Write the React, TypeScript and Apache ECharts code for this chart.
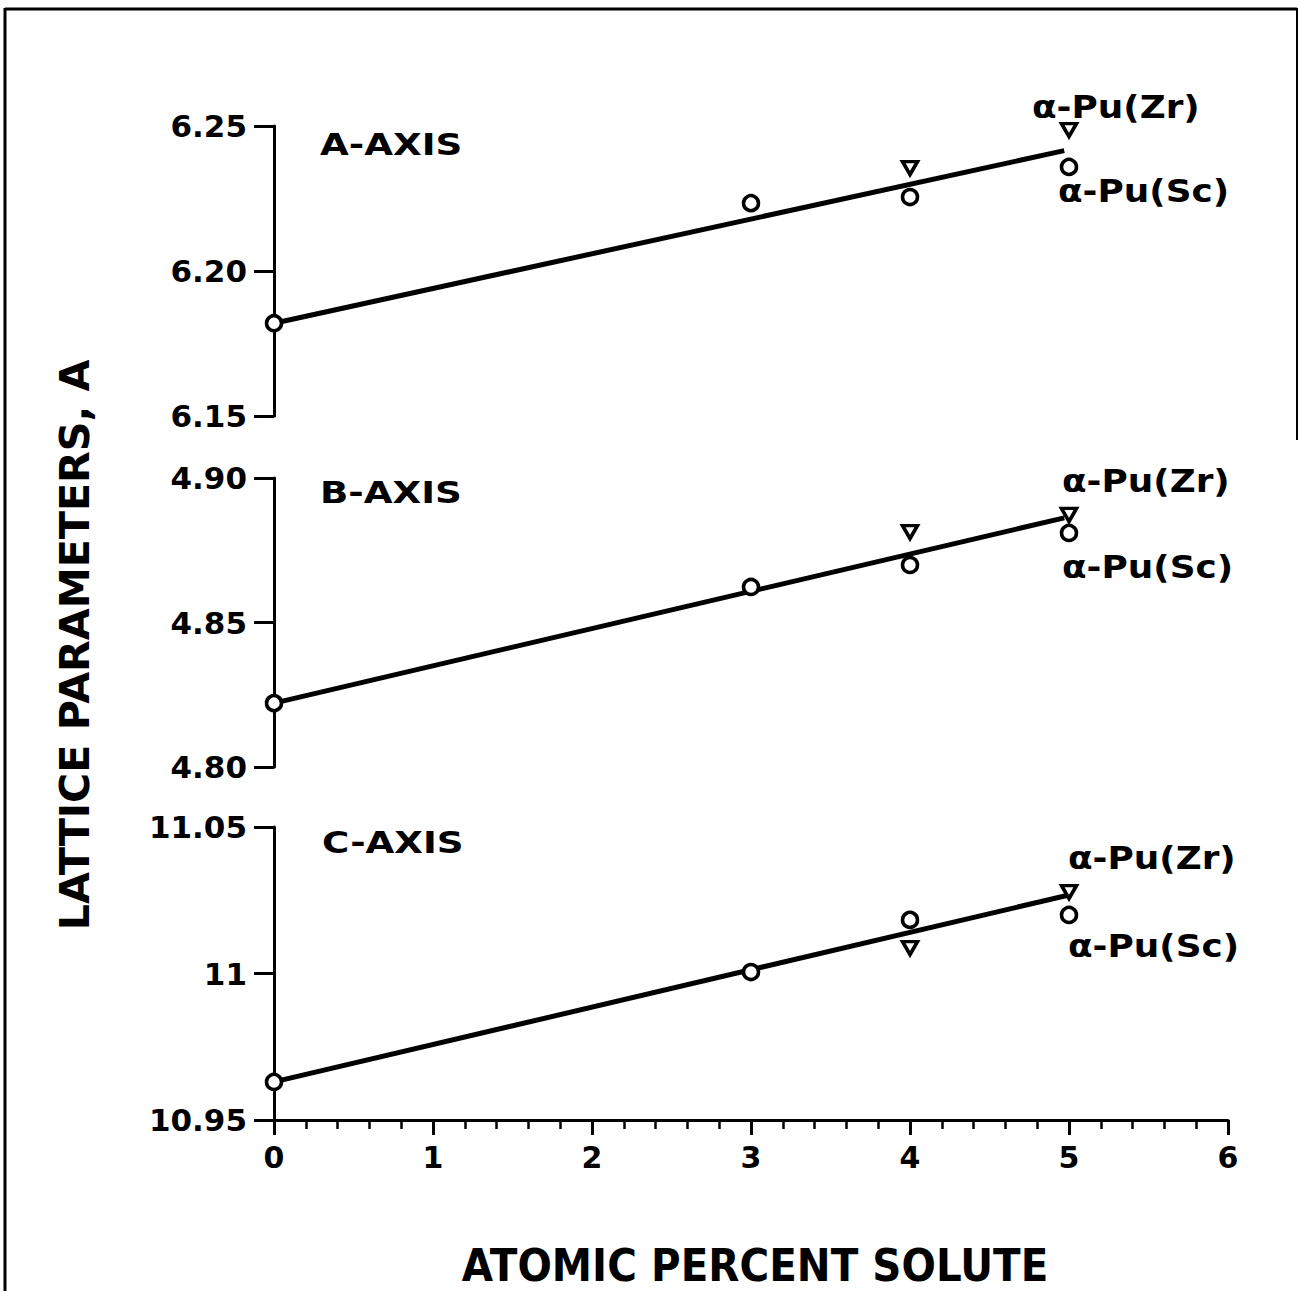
import React, { useEffect, useRef } from "react";
import * as echarts from "echarts";

// ---- data ----
const xTickLabels = ["0", "1", "2", "3", "4", "5", "6"];
const yTicksA = ["6.15", "6.20", "6.25"];
const yTicksB = ["4.80", "4.85", "4.90"];
const yTicksC = ["10.95", "11", "11.05"];

// alpha-Pu(Sc) : open circles
const scA = [[0, 6.182], [3, 6.2234], [4, 6.2255], [5, 6.2359]];
const scB = [[0, 4.8221], [3, 4.8623], [4, 4.8699], [5, 4.881]];
const scC = [[0, 10.963], [3, 11.0005], [4, 11.0183], [5, 11.02]];
// alpha-Pu(Zr) : open inverted triangles
const zrA = [[4, 6.2355], [5, 6.2486]];
const zrB = [[4, 4.8813], [5, 4.8872]];
const zrC = [[4, 11.0087], [5, 11.0278]];
// fitted lines (end points)
const fitA = [[0, 6.182], [4.97, 6.2415]];
const fitB = [[0, 4.8221], [4.97, 4.8862]];
const fitC = [[0, 10.963], [5, 11.0268]];

const panelNames = ["A-AXIS", "B-AXIS", "C-AXIS"];
const zrLabel = "α-Pu(Zr)";
const scLabel = "α-Pu(Sc)";
const xTitle = "ATOMIC PERCENT SOLUTE";
const yTitle = "LATTICE PARAMETERS, A";

const FONT = "DejaVu Sans";

export default function App() {
  const ref = useRef<HTMLDivElement>(null);

  useEffect(() => {
    document.body.style.margin = "0";
    if (!ref.current) return;
    const chart = echarts.init(ref.current, null, { renderer: "svg" });

    const grids = [
      { left: 274, width: 954, top: 126, height: 290 },
      { left: 274, width: 954, top: 478, height: 289 },
      { left: 274, width: 954, top: 827, height: 293 },
    ];
    const yRanges = [
      { min: 6.15, max: 6.25, labels: yTicksA },
      { min: 4.8, max: 4.9, labels: yTicksB },
      { min: 10.95, max: 11.05, labels: yTicksC },
    ];

    const xAxes = grids.map((_, i) => ({
      type: "value",
      gridIndex: i,
      min: 0,
      max: 6,
      interval: 1,
      show: i === 2,
      axisLine: { show: true, lineStyle: { color: "#000", width: 3 } },
      axisTick: { show: true, length: 15, lineStyle: { color: "#000", width: 3 } },
      minorTick: { show: true, splitNumber: 5, length: 9, lineStyle: { color: "#000", width: 2.5 } },
      splitLine: { show: false },
      axisLabel: {
        margin: 22,
        color: "#000",
        fontFamily: FONT,
        fontWeight: "bold",
        fontSize: 30,
        formatter: (_v: number, idx: number) => xTickLabels[idx] ?? "",
      },
    }));

    const yAxes = yRanges.map((r, i) => ({
      type: "value",
      gridIndex: i,
      min: r.min,
      max: r.max,
      interval: 0.05,
      axisLine: { show: true, lineStyle: { color: "#000", width: 3 } },
      axisTick: { show: true, length: 20, lineStyle: { color: "#000", width: 3 } },
      splitLine: { show: false },
      axisLabel: {
        margin: 27,
        color: "#000",
        fontFamily: FONT,
        fontWeight: "bold",
        fontSize: 31,
        formatter: (_v: number, idx: number) => r.labels[idx] ?? "",
      },
    }));

    const markerStyle = { color: "#fff", borderColor: "#000", borderWidth: 3.5, opacity: 1 };
    const fits = [fitA, fitB, fitC];
    const scs = [scA, scB, scC];
    const zrs = [zrA, zrB, zrC];
    const series: any[] = [];
    for (let i = 0; i < 3; i++) {
      series.push({
        type: "line",
        xAxisIndex: i,
        yAxisIndex: i,
        data: fits[i],
        symbol: "none",
        lineStyle: { color: "#000", width: 5 },
        z: 2,
      });
      series.push({
        type: "scatter",
        xAxisIndex: i,
        yAxisIndex: i,
        data: scs[i],
        symbol: "circle",
        symbolSize: 15,
        itemStyle: markerStyle,
        z: 3,
      });
      series.push({
        type: "scatter",
        xAxisIndex: i,
        yAxisIndex: i,
        data: zrs[i],
        symbol: "triangle",
        symbolRotate: 180,
        symbolSize: [15, 13],
        itemStyle: markerStyle,
        z: 3,
      });
    }

    const txt = (text: string, x: number, y: number, size: number, sx: number, weight = "bold", extra: any = {}) => ({
      type: "text",
      x,
      y,
      scaleX: sx,
      ...extra,
      style: {
        text,
        fill: "#000",
        fontFamily: FONT,
        fontWeight: weight,
        fontSize: size,
        align: extra.align || "left",
        textAlign: extra.align || "left",
        verticalAlign: "middle",
        textVerticalAlign: "middle",
      },
    });

    const panelLabelPos = [
      [320, 145],
      [320, 493],
      [322, 843],
    ];
    const zrPos = [
      [1032, 107],
      [1062, 481],
      [1068, 858],
    ];
    const scPos = [
      [1058, 191],
      [1062, 567],
      [1068, 946],
    ];

    const graphic: any[] = [
      { type: "line", shape: { x1: 5, y1: 8, x2: 5, y2: 1291 }, style: { stroke: "#000", lineWidth: 3 } },
      { type: "line", shape: { x1: 5, y1: 9, x2: 1297, y2: 9 }, style: { stroke: "#000", lineWidth: 3 } },
      { type: "line", shape: { x1: 1297, y1: 8, x2: 1297, y2: 440 }, style: { stroke: "#000", lineWidth: 2 } },
    ];
    for (let i = 0; i < 3; i++) {
      graphic.push(txt(panelNames[i], panelLabelPos[i][0], panelLabelPos[i][1], 30, 1.24));
      graphic.push(txt(zrLabel, zrPos[i][0], zrPos[i][1], 32, 1.12));
      graphic.push(txt(scLabel, scPos[i][0], scPos[i][1], 32, 1.12));
    }
    graphic.push(txt(xTitle, 755, 1266, 44, 0.92, "bold", { align: "center" }));
    graphic.push(txt(yTitle, 75, 645, 40, 1.03, "bold", { align: "center", rotation: Math.PI / 2 }));

    chart.setOption({
      animation: false,
      backgroundColor: "#fff",
      grid: grids.map((g) => ({ ...g, containLabel: false })),
      xAxis: xAxes,
      yAxis: yAxes,
      series,
      graphic,
    });

    return () => chart.dispose();
  }, []);

  return <div ref={ref} style={{ width: 1301, height: 1291 }} />;
}
